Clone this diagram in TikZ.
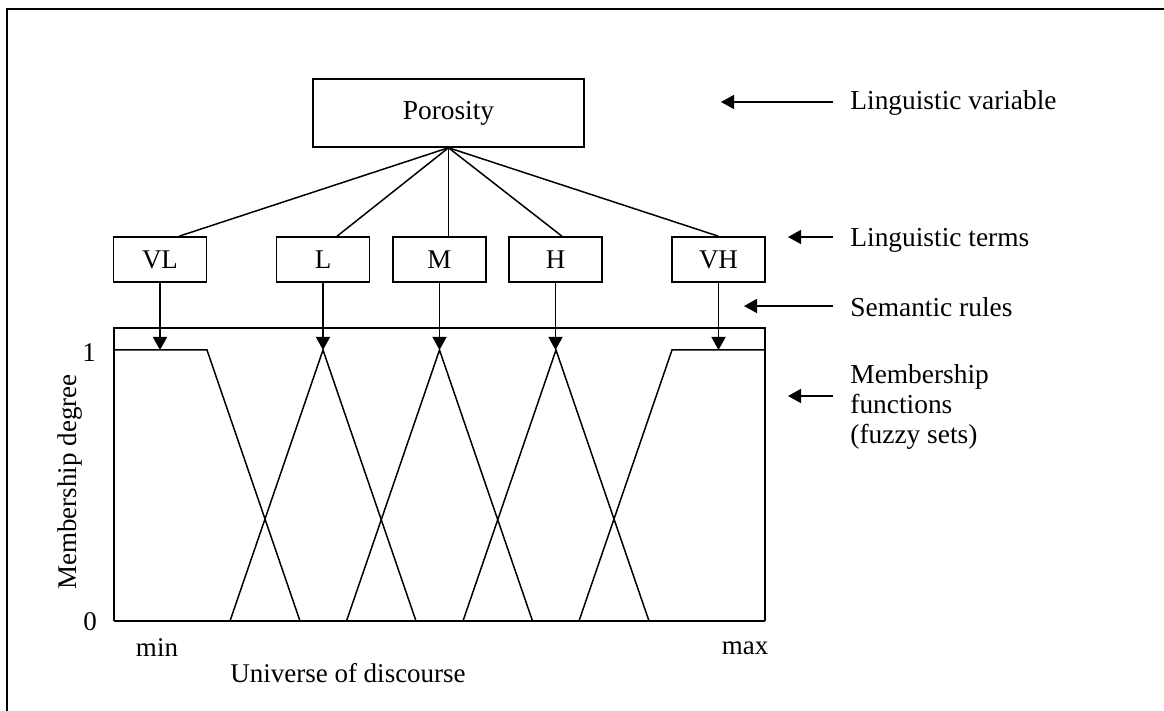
\documentclass[tikz,border=0pt]{standalone}
\usepackage{fontspec}
\setmainfont{Liberation Serif}
\usetikzlibrary{arrows.meta, positioning, calc}
\tikzset{
	varbox/.style={rectangle, draw=black, line width=0.75pt, minimum width=135.5pt,
		minimum height=34pt, inner sep=0pt, font=\fontsize{13.7}{15}\selectfont},
	termbox/.style={rectangle, draw=black, line width=0.75pt, minimum width=46.5pt,
		minimum height=22.5pt, inner sep=0pt, font=\fontsize{13.5}{15}\selectfont},
	sidelabel/.style={anchor=west, inner sep=8.5pt, align=left,
		font=\fontsize{13.7}{15.2}\selectfont},
	axlabel/.style={inner sep=0pt, font=\fontsize{13.5}{15}\selectfont},
	link/.style={line width=0.75pt},
	mfline/.style={line width=0.75pt},
	arrow/.style={-{Triangle[length=6.5pt, width=7pt]}, line width=0.75pt},
}

\begin{document}
\begin{tikzpicture}[x=0.5pt, y=-0.5pt]
	\useasboundingbox (0,0) rectangle (1164,711);
	% outer frame (only its top and left edges lie in the picture)
	\draw[line width=1.4pt] (7,711) |- (1164,9);
	% linguistic variable and terms
	\node[varbox](poro) at (448.5,113){Porosity};
	\node[termbox](vl) at (160,259.5){VL};
	\node[termbox](l) at (323,259.5){L};
	\node[termbox](m) at (439.5,259.5){M};
	\node[termbox](h) at (555.5,259.5){H};
	\node[termbox](vh) at (718.5,259.5){VH};
	\draw[link](poro.south)--([xshift=9.5pt]vl.north);
	\draw[link](poro.south)--([xshift=7pt]l.north);
	\draw[link](poro.south)--(poro.south |- m.north);
	\draw[link](poro.south)--([xshift=3.25pt]h.north);
	\draw[link](poro.south)--(vh.north);
	% membership functions
	\draw[mfline](114,621)--(114,328)--(765,328)--(765,621);
	\draw[line width=1pt](114,621)--(765,621);
	\draw[mfline](114,350)--(207,350)--(300,621);
	\foreach \c in {323,439.5,556}
		\draw[mfline](\c-93,621)--(\c,350)--(\c+93,621);
	\draw[mfline](579,621)--(672,350)--(765,350);
	\coordinate(pvl) at (160,350);
	\coordinate(pl) at (323,350);
	\coordinate(pm) at (439.5,350);
	\coordinate(ph) at (555.5,350);
	\coordinate(pvh) at (718.5,350);
	\draw[arrow](vl)--(pvl);\draw[arrow](l)--(pl);\draw[arrow](m)--(pm);
	\draw[arrow](h)--(ph);\draw[arrow](vh)--(pvh);
	% axis labels
	\node[axlabel](one) at (89,353){1};
	\node[axlabel](zero) at (90,622){0};
	\node[axlabel](min) at (157,648){min};
	\node[axlabel](max) at (745,648){max};
	\node[axlabel](uod) at (348,673){Universe of discourse};
	\node[axlabel, rotate=90](mdeg) at (70,482){Membership degree};
	% side labels
	\coordinate(tvar) at (721,102);
	\coordinate(tterm) at (788,237);
	\coordinate(tsem) at (744,306);
	\coordinate(tmf) at (788,396);
	\node[sidelabel](lvar) at (833,103){Linguistic variable};
	\node[sidelabel](lterm) at (833,240){Linguistic terms};
	\node[sidelabel](lsem) at (833,307){Semantic rules};
	\node[sidelabel](lmf) at (833,407){Membership\\functions\\(fuzzy sets)};
	\draw[arrow](lvar.west |- tvar)--(tvar);
	\draw[arrow](lterm.west |- tterm)--(tterm);
	\draw[arrow](lsem.west |- tsem)--(tsem);
	\draw[arrow](lmf.west |- tmf)--(tmf);
\end{tikzpicture}
\end{document}
